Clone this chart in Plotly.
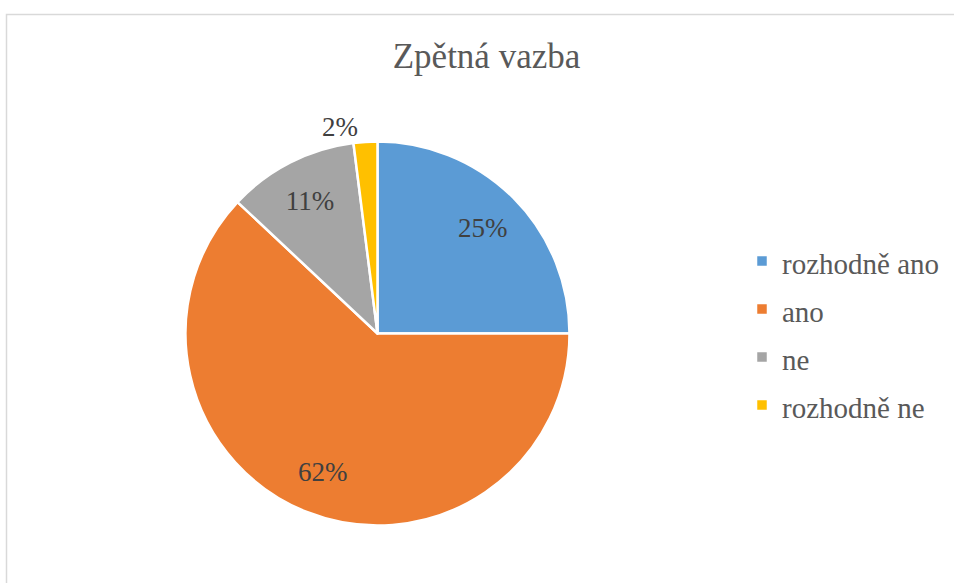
import plotly.graph_objects as go

categories = ["rozhodně ano", "ano", "ne", "rozhodně ne"]
values = [25, 62, 11, 2]
colors = ["#5B9BD5", "#ED7D31", "#A5A5A5", "#FFC000"]
text_positions = ["inside", "inside", "inside", "outside"]

W, H = 954, 583
FONT = "Liberation Serif"

# pie geometry in pixels
cx, cy, r = 377.5, 333.5, 192.0
dom_half_h = 240.0
domain = dict(
    x=[(cx - r) / W, (cx + r) / W],
    y=[1 - (cy + dom_half_h) / H, 1 - (cy - dom_half_h) / H],
)

LEG_SIZE = 29
legend_labels = [f"<span style='font-size:{LEG_SIZE}px'>{c}</span>" for c in categories]

fig = go.Figure()

# coloured slices + legend
fig.add_trace(
    go.Pie(
        labels=legend_labels,
        values=values,
        sort=False,
        direction="clockwise",
        rotation=0,
        marker=dict(colors=colors, line=dict(color="white", width=2.5)),
        textinfo="none",
        domain=domain,
        hovertext=categories,
        hoverinfo="text+percent",
    )
)

# percentage labels, placed in a ring so they sit at the slice mid-radius
fig.add_trace(
    go.Pie(
        labels=categories,
        values=values,
        sort=False,
        direction="clockwise",
        rotation=0,
        hole=0.55,
        marker=dict(colors=["rgba(0,0,0,0)"] * len(values), line=dict(width=0)),
        texttemplate="%{percent:.0%}",
        textposition=text_positions,
        insidetextorientation="horizontal",
        textfont=dict(family=FONT, size=27, color="#404040"),
        domain=domain,
        showlegend=False,
        hoverinfo="skip",
    )
)

fig.update_layout(
    width=W,
    height=H,
    margin=dict(l=0, r=0, t=0, b=0, autoexpand=False),
    paper_bgcolor="white",
    plot_bgcolor="white",
    title=dict(
        text="Zpětná vazba",
        font=dict(family=FONT, size=35, color="#595959"),
        x=486.5 / W,
        xanchor="center",
        xref="paper",
        yref="container",
        y=1 - 55.5 / H,
        yanchor="middle",
    ),
    legend=dict(
        x=(782 - 40) / W,
        xanchor="left",
        y=1 - 333 / H,
        yanchor="middle",
        font=dict(family=FONT, size=34.6, color="#595959"),
        bgcolor="rgba(0,0,0,0)",
    ),
    shapes=[
        dict(
            type="rect",
            xref="paper",
            yref="paper",
            x0=6.5 / W,
            x1=1.05,
            y0=-0.05,
            y1=1 - 14.5 / H,
            line=dict(color="#D9D9D9", width=1.5),
            fillcolor="rgba(0,0,0,0)",
            layer="below",
        )
    ],
)

fig.write_html(
    "out.html",
    config={"displayModeBar": False},
    post_script="document.body.style.margin='0';",
)
